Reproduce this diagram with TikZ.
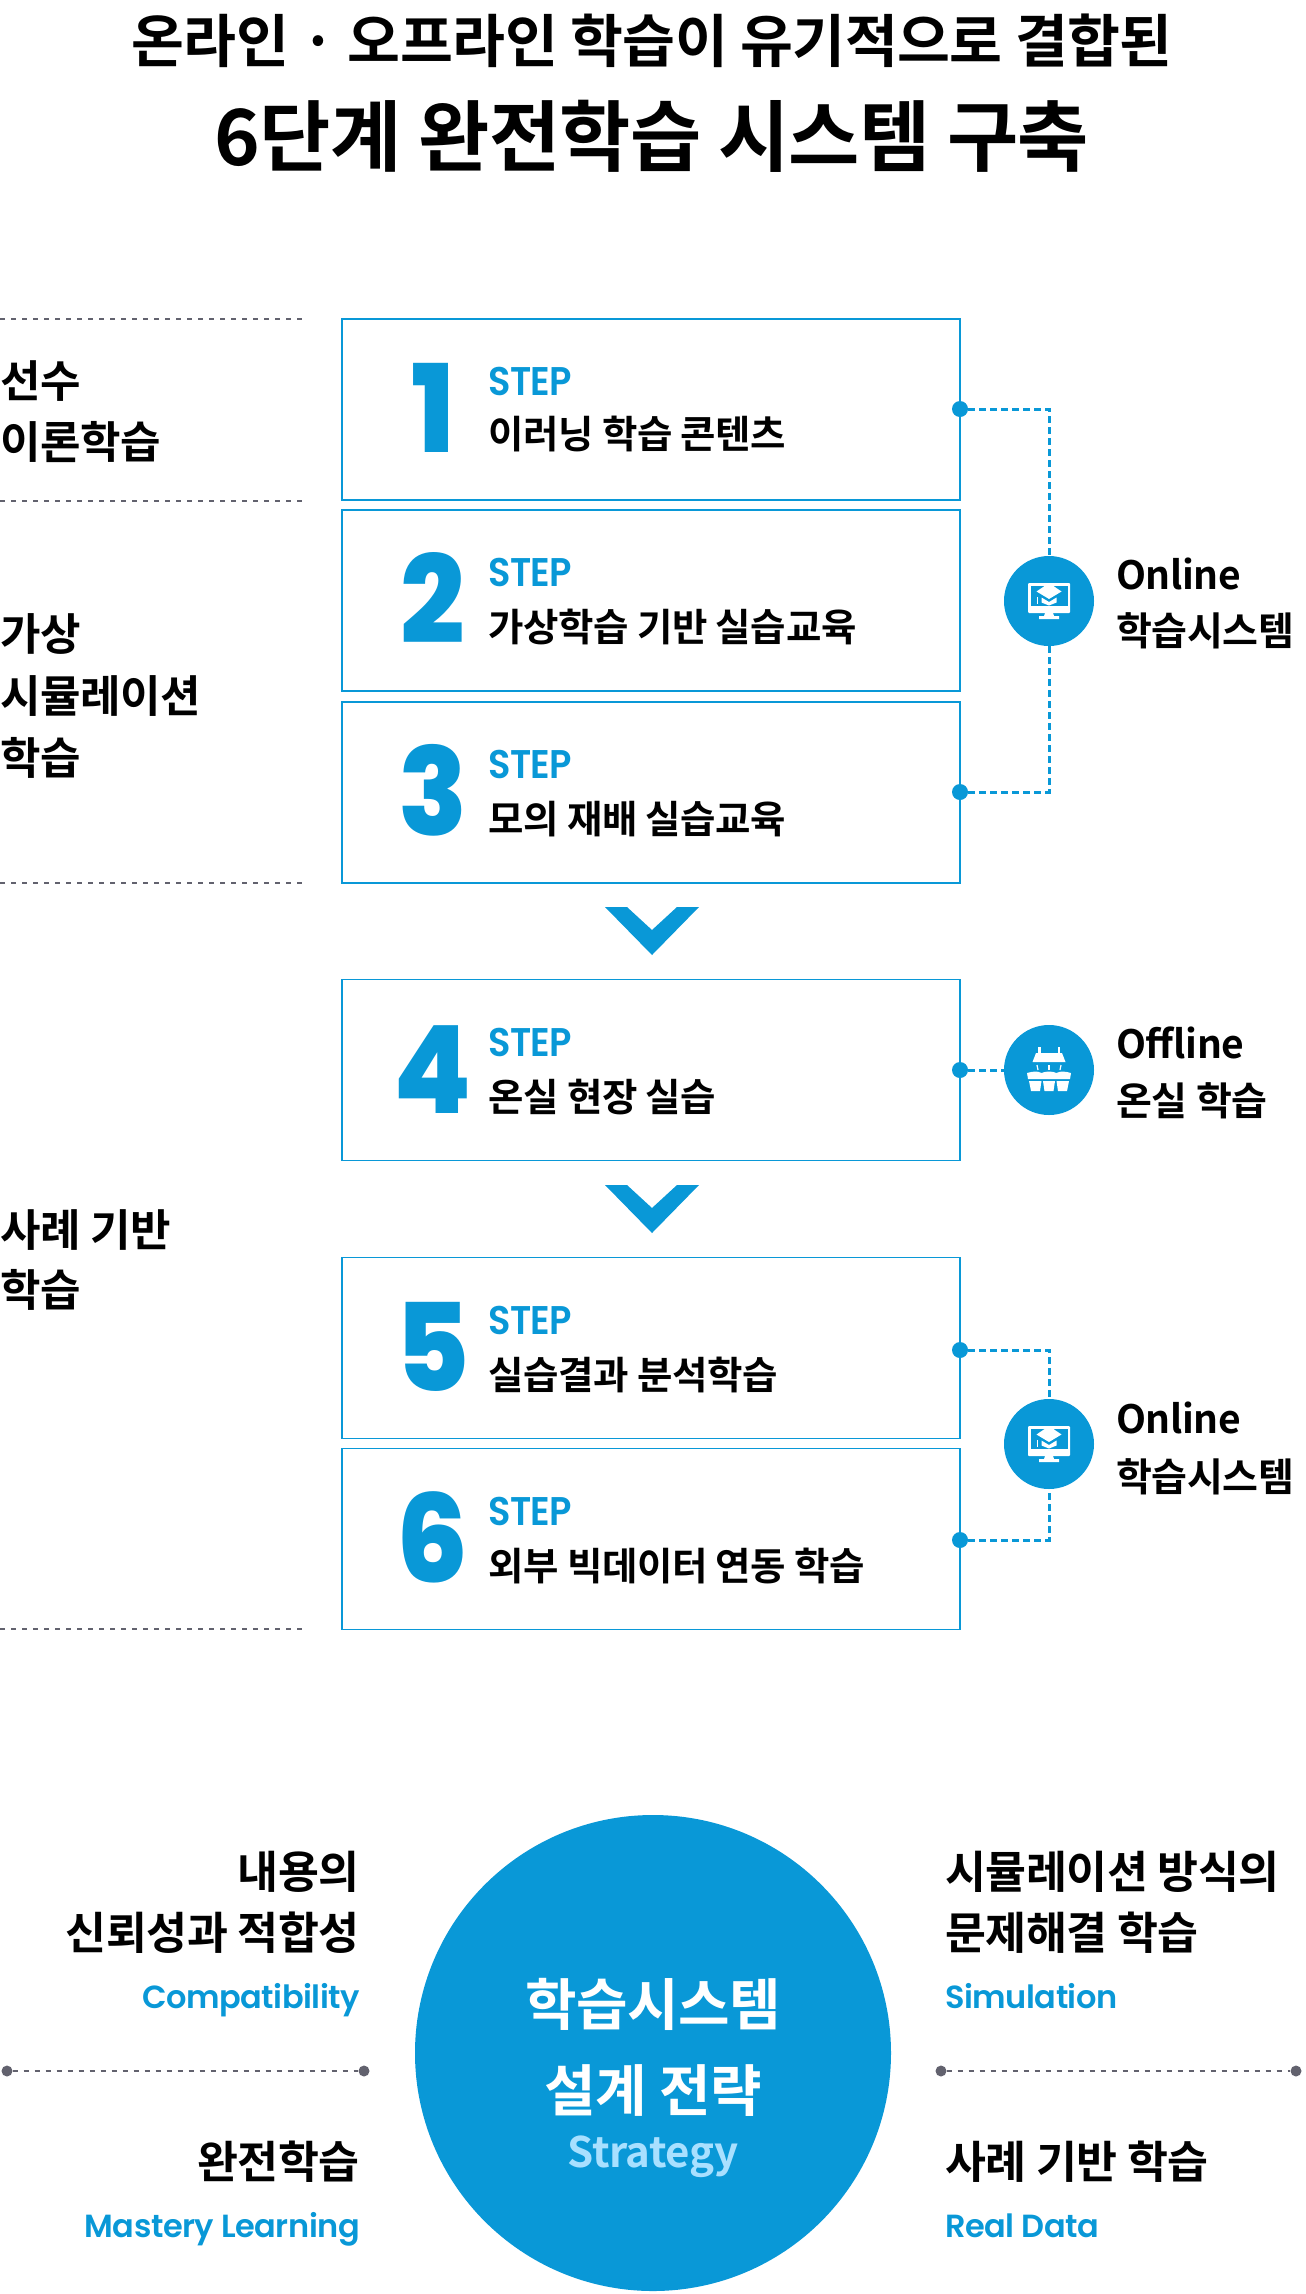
\documentclass[tikz,border=0pt]{standalone}
\usepackage{fontspec}
\setmainfont{Noto Sans CJK KR}[BoldFont=* Bold,LetterSpace=-1]
\newfontfamily\popfont{Poppins}[BoldFont=* SemiBold,LetterSpace=-1.5]
\newfontfamily\numfont{Poppins ExtraBold}
\usetikzlibrary{positioning}
\definecolor{skyblue}{HTML}{0998D7}
\definecolor{paleblue}{HTML}{A8E0FF}
\definecolor{dotgray}{HTML}{62626E}
\tikzset{
  stepbox/.style={draw=skyblue,line width=1.8pt,minimum width=618pt,minimum height=181pt,inner sep=0pt},
  stepnum/.style={text=skyblue,font=\numfont\fontsize{122}{122}\selectfont,anchor=base,inner sep=0pt,xscale=.93},
  steptag/.style={text=skyblue,font=\popfont\bfseries\fontsize{40}{40}\selectfont,anchor=base west,inner sep=0pt,xscale=.92},
  steptext/.style={font=\bfseries\fontsize{38.5}{38.5}\selectfont,anchor=base west,inner sep=0pt},
  sidetext/.style={font=\bfseries\fontsize{44}{44}\selectfont,anchor=base west,inner sep=0pt},
  onlinetext/.style={font=\bfseries\fontsize{39}{39}\selectfont,anchor=base west,inner sep=0pt},
  endtext/.style={font=\bfseries\fontsize{44.5}{44.5}\selectfont,inner sep=0pt},
  entext/.style={text=skyblue,font=\popfont\bfseries\fontsize{32}{32}\selectfont,inner sep=0pt},
  bluedot/.style={circle,fill=skyblue,minimum size=16pt,inner sep=0pt},
  graydot/.style={circle,fill=dotgray,minimum size=11pt,inner sep=0pt},
  iconball/.style={circle,fill=skyblue,minimum size=90pt,inner sep=0pt},
  linkline/.style={draw=skyblue,line width=3pt,dash pattern=on 6.5pt off 4.5pt},
  grayline/.style={draw=dotgray,line width=2.2pt,dash pattern=on 5.3pt off 5.7pt},
  chevron/.style={fill=skyblue,draw=none},
  monitoricon/.pic={
    \fill[white,rounded corners=1pt] (-21,-18) rectangle (21,12);
    \fill[skyblue] (-18.5,-15) rectangle (18.5,5);
    \fill[white] (0,8.5) circle (1.6);
    \fill[white] (-4,12) -- (4,12) -- (5,15) -- (10,15) -- (10,18) -- (-10,18) -- (-10,15) -- (-5,15) -- cycle;
    \fill[white] (0,-18) -- (12.5,-9.5) -- (0,-2) -- (-12.5,-9.5) -- cycle;
    \fill[white] (-7.5,-3.5) -- (0,1) -- (7.5,-3.5) -- (7.5,1.5) -- (0,4.5) -- (-7.5,1.5) -- cycle;
    \draw[white,line width=1.2pt] (-11.5,-4) -- (-11.5,3);
  },
  basketicon/.pic={
    \fill[white] (-13,-17) -- (13,-17) -- (16.5,-8) -- (-16.5,-8) -- cycle;
    \fill[white] (-11,-23) rectangle (-8.5,-16);
    \fill[white] (8.5,-23) rectangle (11,-16);
    \draw[white,line width=1.2pt] (-12,-5) -- (-11,0);
    \draw[white,line width=1.2pt] (0,-5) -- (0,0);
    \draw[white,line width=1.2pt] (12,-5) -- (11,0);
    \fill[white] (-22,3) .. controls (-14,1) and (-12,1) .. (-7.5,3) .. controls (-3,1) and (3,1) .. (7.5,3) .. controls (12,1) and (14,1) .. (22,3) -- (21,9) -- (-21,9) -- cycle;
    \fill[white] (-20,11) -- (-7.5,11) -- (-9,21) -- (-18,21) -- cycle;
    \fill[white] (-6,11) -- (6,11) -- (4.5,21) -- (-4.5,21) -- cycle;
    \fill[white] (20,11) -- (7.5,11) -- (9,21) -- (18,21) -- cycle;
  },
}
\begin{document}
\begin{tikzpicture}[x=1pt,y=-1pt]
  \useasboundingbox (0,0) rectangle (1306,2294);
  % title
  \node[font=\bfseries\fontsize{57.5}{57.5}\selectfont,inner sep=0pt,anchor=base] (title1) at (652,62) {온라인 · 오프라인 학습이 유기적으로 결합된};
  \node[font=\bfseries\fontsize{77.5}{77.5}\selectfont,inner sep=0pt,anchor=base] (title2) at (652,165) {6단계 완전학습 시스템 구축};

  % left column
  \draw[grayline] (0,319) -- (304,319);
  \draw[grayline] (0,501) -- (304,501);
  \draw[grayline] (0,883) -- (304,883);
  \draw[grayline] (0,1629) -- (304,1629);
  \node[sidetext] (left1a) at (0,397) {선수};
  \node[sidetext] (left1b) at (0,458) {이론학습};
  \node[sidetext] (left2a) at (0,650) {가상};
  \node[sidetext] (left2b) at (0,712) {시뮬레이션};
  \node[sidetext] (left2c) at (0,774) {학습};
  \node[sidetext] (left3a) at (0,1246) {사례 기반};
  \node[sidetext] (left3b) at (0,1306) {학습};

  % step boxes
  \node[stepbox] (box1) at (651,409.5) {};
  \node[stepbox] (box2) at (651,600.5) {};
  \node[stepbox] (box3) at (651,792.5) {};
  \node[stepbox] (box4) at (651,1070) {};
  \node[stepbox] (box5) at (651,1348) {};
  \node[stepbox] (box6) at (651,1539) {};

  \node[stepnum] (num1) at (433,452) {1};
  \node[stepnum] (num2) at (433,643) {2};
  \node[stepnum] (num3) at (433,835) {3};
  \node[stepnum] (num4) at (433,1113) {4};
  \node[stepnum] (num5) at (433,1391) {5};
  \node[stepnum] (num6) at (433,1582) {6};

  \node[steptag] (tag1) at (488,395) {STEP};
  \node[steptag] (tag2) at (488,586) {STEP};
  \node[steptag] (tag3) at (488,778) {STEP};
  \node[steptag] (tag4) at (488,1056) {STEP};
  \node[steptag] (tag5) at (488,1334) {STEP};
  \node[steptag] (tag6) at (488,1525) {STEP};

  \node[steptext] (text1) at (488,448) {이러닝 학습 콘텐츠};
  \node[steptext] (text2) at (488,641) {가상학습 기반 실습교육};
  \node[steptext] (text3) at (488,833) {모의 재배 실습교육};
  \node[steptext] (text4) at (488,1111) {온실 현장 실습};
  \node[steptext] (text5) at (488,1389) {실습결과 분석학습};
  \node[steptext] (text6) at (488,1580) {외부 빅데이터 연동 학습};

  % chevrons
  \fill[chevron] (605,907) -- (627,907) -- (652,930) -- (677,907) -- (699,907) -- (652,955) -- cycle;
  \fill[chevron] (605,1185) -- (627,1185) -- (652,1208) -- (677,1185) -- (699,1185) -- (652,1233) -- cycle;

  % right column
  \node[iconball] (ball1) at (1049,601) {};
  \node[iconball] (ball2) at (1049,1070) {};
  \node[iconball] (ball3) at (1049,1444) {};
  \node[bluedot] (dot1) at (960,409) {};
  \node[bluedot] (dot3) at (960,792) {};
  \node[bluedot] (dot4) at (960,1070) {};
  \node[bluedot] (dot5) at (960,1350) {};
  \node[bluedot] (dot6) at (960,1540) {};
  \draw[linkline] (dot1) -| (ball1);
  \draw[linkline] (dot3) -| (ball1);
  \draw[linkline] (dot4) -- (ball2);
  \draw[linkline] (dot5) -| (ball3);
  \draw[linkline] (dot6) -| (ball3);
  \pic at (ball1) {monitoricon};
  \pic at (ball2) {basketicon};
  \pic at (ball3) {monitoricon};

  \node[onlinetext] (side1a) at (1116,589) {Online};
  \node[onlinetext] (side1b) at (1116,645) {학습시스템};
  \node[onlinetext] (side2a) at (1116,1058) {Offline};
  \node[onlinetext] (side2b) at (1116,1115) {온실 학습};
  \node[onlinetext] (side3a) at (1116,1433) {Online};
  \node[onlinetext] (side3b) at (1116,1491) {학습시스템};

  % strategy circle
  \node[circle,fill=skyblue,minimum size=476pt,inner sep=0pt] (hub) at (653,2053) {};
  \node[font=\bfseries\fontsize{56}{56}\selectfont,text=white,inner sep=0pt,anchor=base] (hub1) at (653,2025) {학습시스템};
  \node[font=\bfseries\fontsize{56}{56}\selectfont,text=white,inner sep=0pt,anchor=base] (hub2) at (653,2111) {설계 전략};
  \node[font=\bfseries\fontsize{42}{42}\selectfont,text=paleblue,inner sep=0pt,anchor=base] (hub3) at (653,2167) {Strategy};

  \node[graydot] (ga) at (7,2071) {};
  \node[graydot] (gb) at (364,2071) {};
  \node[graydot] (gc) at (941,2071) {};
  \node[graydot] (gd) at (1296,2071) {};
  \draw[grayline] (ga) -- (gb);
  \draw[grayline] (gc) -- (gd);

  \node[endtext,anchor=base east] (lt1) at (360,1888) {내용의};
  \node[endtext,anchor=base east] (lt2) at (360,1949) {신뢰성과 적합성};
  \node[entext,anchor=base east] (lt3) at (360,2008) {Compatibility};
  \node[endtext,anchor=base east] (lt4) at (360,2178) {완전학습};
  \node[entext,anchor=base east] (lt5) at (360,2237) {Mastery Learning};
  \node[endtext,anchor=base west] (rt1) at (945,1888) {시뮬레이션 방식의};
  \node[endtext,anchor=base west] (rt2) at (945,1949) {문제해결 학습};
  \node[entext,anchor=base west] (rt3) at (945,2008) {Simulation};
  \node[endtext,anchor=base west] (rt4) at (945,2178) {사례 기반 학습};
  \node[entext,anchor=base west] (rt5) at (945,2237) {Real Data};
\end{tikzpicture}
\end{document}
